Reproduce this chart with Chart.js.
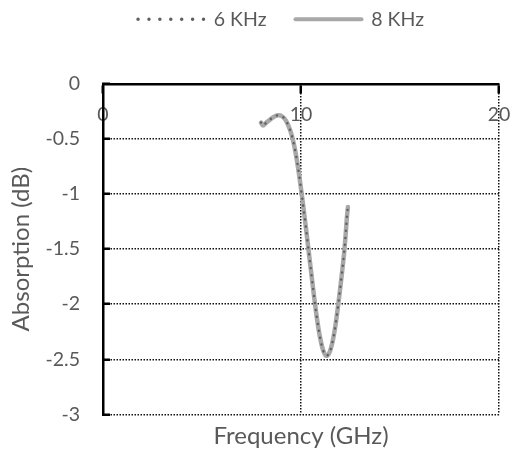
<!DOCTYPE html>
<html>
<head>
<meta charset="utf-8">
<script src="https://cdn.jsdelivr.net/npm/chart.js@4.4.0/dist/chart.umd.min.js"></script>
<style>
  html, body { margin: 0; padding: 0; background: #fff; }
</style>
</head>
<body>
<canvas id="chart" width="511" height="456"></canvas>
<script>
// frequency (GHz)
const freq = [7.98, 8.08, 8.25, 8.43, 8.64, 8.84, 9.04, 9.24, 9.44, 9.6, 9.75, 9.9,
  10.05, 10.2, 10.35, 10.5, 10.66, 10.81, 10.96, 11.11, 11.26, 11.41, 11.57, 11.72,
  11.87, 12.02, 12.17, 12.27, 12.32, 12.37];
// absorption (dB)
const abs6k = [-0.35, -0.378, -0.35, -0.324, -0.297, -0.284, -0.293, -0.333, -0.414, -0.514, -0.649, -0.82,
  -1.02, -1.234, -1.46, -1.69, -1.93, -2.135, -2.30, -2.414, -2.468, -2.45, -2.36, -2.216,
  -2.018, -1.793, -1.55, -1.333, -1.207, -1.117];
const abs8k = [-0.35, -0.378, -0.35, -0.324, -0.297, -0.284, -0.293, -0.333, -0.414, -0.514, -0.649, -0.82,
  -1.02, -1.234, -1.46, -1.69, -1.93, -2.135, -2.30, -2.414, -2.468, -2.45, -2.36, -2.216,
  -2.018, -1.793, -1.55, -1.333, -1.207, -1.117];
const seriesNames = ['6 KHz', '8 KHz'];
const xRange = [0, 20];
const yRange = [-3, 0];

Chart.defaults.font.family = 'Lato';
Chart.defaults.font.size = 19.5;
Chart.defaults.color = '#595959';

const pts = (ys) => freq.map((f, i) => ({ x: f, y: ys[i] }));

// move the legend to where the original has it
const legendShift = {
  id: 'legendShift',
  afterLayout(chart) {
    const lg = chart.legend;
    lg.left += 31.5; lg.right += 31.5;
    lg.top -= 45; lg.bottom -= 45;
  }
};

const gridStyle = {
  color: '#111',
  lineWidth: 1.5,
  tickBorderDash: [],
  tickColor: '#000',
  tickWidth: 2.5
};
const borderStyle = { display: true, color: '#000', width: 2.5, dash: [1.5, 1.5] };

new Chart(document.getElementById('chart'), {
  type: 'line',
  data: {
    datasets: [
      {
        label: seriesNames[0],
        data: pts(abs6k),
        borderColor: '#606060',
        borderWidth: 2.5,
        borderDash: [0.01, 7],
        borderCapStyle: 'round',
        pointRadius: 0,
        tension: 0.35
      },
      {
        label: seriesNames[1],
        data: pts(abs8k),
        borderColor: '#a8a8a8',
        borderWidth: 4.5,
        borderCapStyle: 'round',
        pointRadius: 0,
        tension: 0.35
      }
    ]
  },
  options: {
    responsive: false,
    devicePixelRatio: 1,
    animation: false,
    layout: { padding: { left: 0, right: 12, top: 25.5, bottom: 0 } },
    plugins: {
      tooltip: { enabled: false },
      legend: {
        position: 'top',
        labels: {
          usePointStyle: true,
          pointStyleWidth: 66,
          padding: 29,
          color: '#595959',
          generateLabels(chart) {
            return chart.data.datasets.map((ds, i) => ({
              text: ds.label,
              datasetIndex: i,
              pointStyle: 'line',
              strokeStyle: ds.borderColor,
              fillStyle: ds.borderColor,
              lineWidth: i === 0 ? 3.5 : 4,
              lineDash: i === 0 ? [0.01, 10.9] : [],
              lineCap: 'round',
              fontColor: '#595959',
              hidden: false
            }));
          }
        }
      }
    },
    scales: {
      x: {
        type: 'linear',
        position: { y: 0 },
        min: xRange[0],
        max: xRange[1],
        ticks: { stepSize: 10, padding: 11 },
        grid: Object.assign({ tickLength: 8 }, gridStyle),
        border: borderStyle,
        // labels at the ends may spill over, like the original
        afterFit(scale) { scale.paddingLeft = 0; scale.paddingRight = 0; }
      },
      xTitle: {
        type: 'linear',
        position: 'bottom',
        min: xRange[0],
        max: xRange[1],
        ticks: { display: false },
        grid: { display: false, drawTicks: false },
        border: { display: false },
        title: { display: true, text: 'Frequency (GHz)', font: { size: 24 }, padding: { top: 7.6, bottom: 2.6 } },
        afterFit(scale) { scale.height = 39; }
      },
      y: {
        type: 'linear',
        min: yRange[0],
        max: yRange[1],
        ticks: {
          stepSize: 0.5,
          padding: 30,
          callback: (v) => String(Math.round(v * 10) / 10)
        },
        grid: Object.assign({ tickLength: -7 }, gridStyle),
        border: borderStyle,
        title: { display: true, text: 'Absorption (dB)', font: { size: 24 }, padding: { top: 6.6, bottom: 0 } },
        afterFit(scale) { scale.width = 103; }
      }
    }
  },
  plugins: [legendShift]
});
</script>
</body>
</html>
